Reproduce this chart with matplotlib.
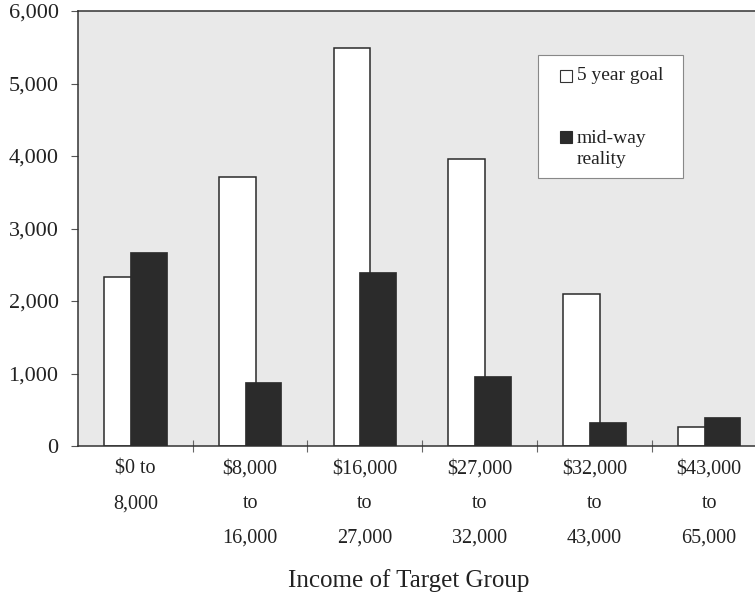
import matplotlib
matplotlib.use("Agg")
import matplotlib.pyplot as plt
from matplotlib.patches import Rectangle
import numpy as np

plt.rcParams['font.family'] = ['Liberation Serif', 'DejaVu Serif']

categories = ["$0 to\n8,000", "$8,000\nto\n16,000", "$16,000\nto\n27,000",
              "$27,000\nto\n32,000", "$32,000\nto\n43,000", "$43,000\nto\n65,000"]
goal = [2335, 3710, 5495, 3955, 2095, 258]
reality = [2680, 887, 2404, 970, 335, 404]
y_ticks = [0, 1000, 2000, 3000, 4000, 5000, 6000]
y_ticklabels = ["0", "1,000", "2,000", "3,000", "4,000", "5,000", "6,000"]
series_labels = ["5 year goal", "mid-way\nreality"]
xlabel = "Income of Target Group"

fig = plt.figure(figsize=(7.55, 5.93), dpi=100)
ax = fig.add_axes([78/755, 1-446/593, 688.5/755, 435/593])
ax.set_facecolor('#e9e9e9')

x = np.arange(len(categories))
w = 0.32
off = 0.113
ax.bar(x - off, goal, width=w, color='white', edgecolor='#2a2a2a', linewidth=1.1, zorder=2)
ax.bar(x + off, reality, width=w, color='#2b2b2b', edgecolor='#2b2b2b', linewidth=0.5, zorder=3)

ax.set_xlim(-0.5, len(categories) - 0.5)
ax.set_ylim(0, 6000)
ax.set_yticks(y_ticks)
ax.set_yticklabels(y_ticklabels, fontsize=16, color='#222')
ax.tick_params(axis='y', direction='out', length=5, width=0.8, color='#555', pad=9)

ax.set_xticks(x)
ax.set_xticklabels(categories, fontsize=14.5, linespacing=2.1, color='#222')
ax.set_xticks(x[:-1] + 0.5, minor=True)
ax.tick_params(axis='x', which='major', length=0, pad=10)
ax.tick_params(axis='x', which='minor', direction='inout', length=9, width=0.8, color='#666')

ax.set_xlabel(xlabel, fontsize=18, color='#222')
ax.xaxis.set_label_coords((409 - 78) / 688.5, (446 - 569) / 435)

for s in ['left', 'bottom', 'top', 'right']:
    ax.spines[s].set_color('#333')
    ax.spines[s].set_linewidth(1.1)

# legend drawn manually
ax.add_patch(Rectangle((0.668, 0.616), 0.211, 0.283, transform=ax.transAxes,
                       facecolor='white', edgecolor='#888', linewidth=0.8, zorder=5))
sq_w = 12/688.5
sq_h = 12/435
ax.add_patch(Rectangle((0.700, (446-82)/435), sq_w, sq_h, transform=ax.transAxes,
                       facecolor='white', edgecolor='#333', linewidth=0.8, zorder=6))
ax.add_patch(Rectangle((0.700, (446-143)/435), sq_w, sq_h, transform=ax.transAxes,
                       facecolor='#2b2b2b', edgecolor='#2b2b2b', linewidth=0.8, zorder=6))
ax.text((577-78)/688.5, (446-75)/435, series_labels[0], transform=ax.transAxes,
        fontsize=14, va='center', ha='left', color='#222', zorder=7)
ax.text((577-78)/688.5, (446-130)/435, series_labels[1], transform=ax.transAxes,
        fontsize=14, va='top', ha='left', color='#222', zorder=7, linespacing=1.3)

fig.savefig("out.png", dpi=100)
